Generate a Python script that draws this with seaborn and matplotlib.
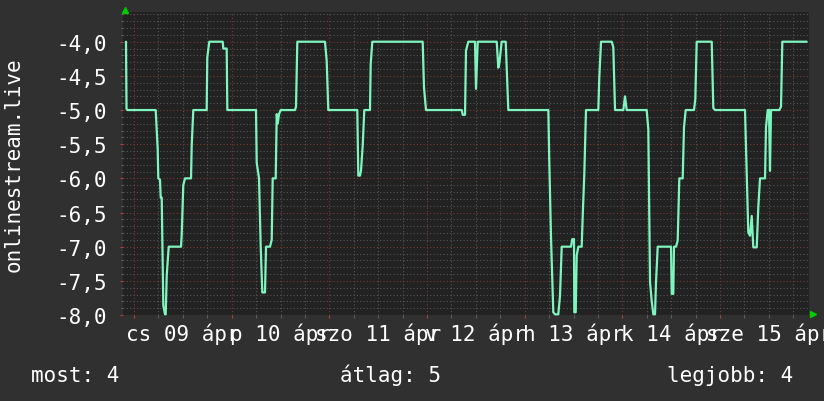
import matplotlib
matplotlib.use("Agg")
import matplotlib.pyplot as plt
import seaborn as sns
import pandas as pd
from matplotlib.ticker import MultipleLocator, FuncFormatter, NullFormatter

# hours since Thu 09 Apr 00:00
hours = [-1.97, -1.84, -1.65, 5.33, 5.82, 5.97, 6.39, 6.56, 6.81, 7.20, 7.62, 7.79, 8.04, 8.53,
         11.55, 11.72, 12.11, 12.53, 14.01, 14.18, 14.57, 17.86, 18.01, 18.50, 21.80, 21.94,
         22.78, 22.93, 29.98, 30.15, 30.72, 31.13, 31.53, 32.19, 32.44, 33.42, 33.84, 34.08,
         34.82, 35.07, 35.31, 35.63, 36.05, 39.56, 39.81, 40.13, 46.93, 47.35, 47.74,
         54.87, 55.12, 55.53, 55.78, 56.20, 56.59, 57.99, 58.16, 58.56, 70.94, 71.26, 71.75,
         80.53, 80.77, 81.34, 81.58, 82.15, 83.79, 84.04, 84.46, 89.13, 89.52, 89.81, 90.35,
         91.34, 91.58, 91.98, 101.81, 102.05, 102.47, 103.03, 103.45, 104.26, 104.68, 105.10,
         107.38, 107.70, 108.12, 108.19, 108.54, 108.78, 109.18, 110.01, 110.26, 110.65,
         111.07, 114.09, 114.34, 114.76, 117.39, 117.78, 118.20, 120.24, 120.65, 121.07,
         125.98, 126.38, 126.80, 127.21, 127.61, 128.03, 128.27, 128.69, 131.96, 132.13,
         132.52, 132.69, 133.19, 133.60, 134.00, 134.83, 135.15, 135.57, 137.61, 137.93,
         138.27, 141.96, 142.35, 142.77, 150.14, 150.56, 150.95, 151.37, 151.79, 152.18,
         153.02, 153.41, 153.83, 155.06, 155.30, 155.72, 156.04, 156.28, 156.53, 158.57,
         158.99, 159.31, 165.30]
values = [-4.0, -4.98, -5.0, -5.0, -5.57, -6.0, -6.02, -6.28, -6.28, -7.86, -7.99, -7.99, -7.42, -7.0,
          -7.0, -6.83, -6.1, -6.0, -6.0, -5.52, -5.0, -5.0, -4.23, -4.0, -4.0, -4.1,
          -4.1, -5.0, -5.0, -5.77, -6.0, -6.99, -7.67, -7.67, -7.0, -7.0, -6.9, -6.0,
          -6.0, -5.06, -5.2, -5.06, -5.0, -5.0, -4.95, -4.0, -4.0, -4.28, -5.0,
          -5.0, -5.96, -5.96, -5.89, -5.52, -5.0, -5.0, -4.33, -4.0, -4.0, -4.67, -5.0,
          -5.0, -5.07, -5.07, -4.13, -4.0, -4.0, -4.69, -4.0, -4.0, -4.38, -4.3, -4.0,
          -4.0, -4.38, -5.0, -5.0, -5.76, -6.86, -7.96, -7.99, -7.99, -7.72, -7.0,
          -7.0, -6.89, -6.89, -7.96, -7.96, -7.13, -7.0, -7.0, -6.55, -5.94,
          -5.0, -5.0, -4.52, -4.0, -4.0, -4.08, -5.0, -5.0, -4.8, -5.0,
          -5.0, -5.28, -7.52, -7.79, -7.99, -7.99, -7.52, -7.0, -7.0, -7.69,
          -7.69, -7.0, -7.0, -6.91, -6.0, -6.0, -5.25, -5.0, -5.0, -4.84,
          -4.0, -4.0, -4.97, -5.0, -5.0, -5.96, -6.79, -6.84, -6.55, -7.01,
          -7.01, -6.42, -6.0, -6.0, -5.25, -5.0, -5.0, -5.89, -5.0, -5.0,
          -4.95, -4.0, -4.0]

day_labels = ["cs 09 ápr", "p 10 ápr", "szo 11 ápr", "v 12 ápr", "h 13 ápr", "k 14 ápr", "sze 15 ápr"]
series_name = "onlinestream.live"
stat_names = ["most", "átlag", "legjobb"]
stat_values = [4, 5, 4]

sns.set_style("dark")
plt.rcParams["font.family"] = ["DejaVu Sans Mono"]

W, H = 824, 402
fig = plt.figure(figsize=(W / 100, H / 100), dpi=100, facecolor="#303030")
ax = fig.add_axes([123.3 / W, 86 / H, 686 / W, 303 / H])
ax.set_facecolor("#222222")

df = pd.DataFrame({"hour": hours, "value": values})
sns.lineplot(data=df, x="hour", y="value", sort=False, estimator=None,
             color="#7ff5be", linewidth=1.6, ax=ax)
for ln in ax.lines:
    ln.set_clip_on(False)
    ln.set_zorder(5)

ax.set_xlim(-2.63, 165.94)
ax.set_ylim(-8.0, -3.565)
ax.set_xlabel("")
ax.set_ylabel("")
for s in ax.spines.values():
    s.set_visible(False)

ax.xaxis.set_major_locator(MultipleLocator(24))
ax.xaxis.set_minor_locator(MultipleLocator(6))
ax.xaxis.set_major_formatter(NullFormatter())


def day_fmt(h, pos):
    if abs((h % 24) - 12) < 1e-6:
        i = int(round((h - 12) / 24))
        if 0 <= i < len(day_labels):
            return day_labels[i]
    return ""


ax.xaxis.set_minor_formatter(FuncFormatter(day_fmt))
ax.yaxis.set_major_locator(MultipleLocator(0.5))
ax.yaxis.set_minor_locator(MultipleLocator(0.1))
ax.yaxis.set_major_formatter(FuncFormatter(lambda v, pos: f"{v:.1f}".replace(".", ",")))

ax.set_axisbelow(True)
ax.grid(which="major", color="#7a3838", linestyle=(0, (1, 2)), linewidth=0.8)
ax.grid(which="minor", color="#555555", linestyle=(0, (1, 2)), linewidth=0.8)

ax.tick_params(axis="x", which="major", bottom=True, length=2.5, width=0.8, color="#b04040")
ax.tick_params(axis="x", which="minor", bottom=True, length=2, width=0.8, color="#606060",
               pad=3.5, labelsize=15, labelcolor="white")
ax.tick_params(axis="y", which="major", left=True, length=2, width=0.8, color="#b04040",
               pad=9.5, labelsize=15, labelcolor="white")
ax.tick_params(axis="y", which="minor", left=True, length=1.5, width=0.8, color="#606060")

# axis arrows
ax.plot([0.0025], [1.008], marker="^", ms=5, color="#00cc00", transform=ax.transAxes, clip_on=False)
ax.plot([1.0054], [0.003], marker=">", ms=5, color="#00cc00", transform=ax.transAxes, clip_on=False)

fig.text(14 / W, (H - 165) / H, series_name, rotation=90, ha="center", va="center",
         color="white", fontsize=15)

base_y = (H - 381.7) / H
fig.text(31 / W, base_y, f"{stat_names[0]}: {stat_values[0]}", ha="left", va="baseline",
         color="white", fontsize=15)
fig.text(340 / W, base_y, f"{stat_names[1]}: {stat_values[1]}", ha="left", va="baseline",
         color="white", fontsize=15)
fig.text(793 / W, base_y, f"{stat_names[2]}: {stat_values[2]}", ha="right", va="baseline",
         color="white", fontsize=15)

fig.savefig("out.png", dpi=100, facecolor=fig.get_facecolor())
